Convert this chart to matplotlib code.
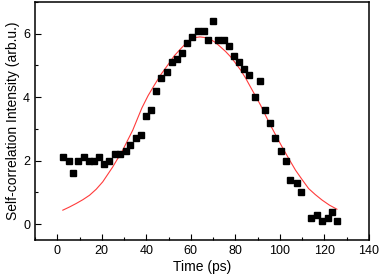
import numpy as np
import matplotlib.pyplot as plt
from matplotlib.ticker import MultipleLocator

plt.rcParams['font.family'] = ['Liberation Sans', 'DejaVu Sans']

# measured points
time_ps = [2.5, 5.1, 7.2, 9.5, 11.8, 14.2, 16.4, 18.8, 21.2, 23.4, 25.8, 28.3,
           31.0, 32.8, 35.2, 37.7, 39.8, 42.1, 44.3, 46.7, 49.1, 51.5, 53.7,
           56.1, 58.3, 60.7, 63.1, 65.7, 67.7, 70.0, 72.2, 74.9, 77.0, 79.2,
           81.6, 83.8, 86.3, 88.6, 90.9, 93.3, 95.7, 97.9, 100.3, 102.6, 104.7,
           107.6, 109.5, 114.1, 116.8, 119.1, 121.4, 123.5, 125.8]
intensity = [2.10, 2.0, 1.60, 2.0, 2.1, 2.0, 2.0, 2.1, 1.9, 2.0, 2.2, 2.2,
             2.3, 2.5, 2.7, 2.8, 3.4, 3.6, 4.2, 4.6, 4.8, 5.1, 5.2,
             5.4, 5.7, 5.9, 6.1, 6.1, 5.8, 6.4, 5.8, 5.8, 5.6, 5.3,
             5.1, 4.9, 4.7, 4.0, 4.5, 3.6, 3.2, 2.7, 2.3, 2.0, 1.4,
             1.3, 1.0, 0.19, 0.3, 0.1, 0.19, 0.39, 0.1]

# fit curve
fit_t = [2.5, 5.5, 8.5, 11.5, 14.5, 17.5, 20.4, 22.6, 24.9, 27.1, 29.4, 31.6,
         33.9, 36.0, 38.0, 40.8, 43.6, 46.6, 49.6, 52.5, 55.5, 57.8, 60.0, 62.0,
         64.1, 66.5, 68.9, 71.1, 73.4, 75.6, 77.9, 80.1, 82.4, 84.6, 86.8, 89.1,
         91.3, 95.0, 98.0, 101.0, 104.0, 107.0, 110.0, 112.9, 115.9, 118.9,
         122.2, 125.6]
fit_y = [0.44, 0.54, 0.65, 0.77, 0.91, 1.10, 1.33, 1.56, 1.80, 2.06, 2.33, 2.64,
         2.96, 3.32, 3.66, 4.05, 4.38, 4.72, 5.01, 5.30, 5.53, 5.70, 5.82, 5.88,
         5.90, 5.88, 5.82, 5.72, 5.58, 5.44, 5.27, 5.07, 4.85, 4.60, 4.32, 4.03,
         3.75, 3.22, 2.82, 2.43, 2.06, 1.70, 1.40, 1.12, 0.93, 0.76,
         0.60, 0.47]

fig = plt.figure(figsize=(3.79, 2.75), dpi=100)
ax = fig.add_axes([0.0923, 0.1273, 0.8813, 0.8654])

ax.plot(fit_t, fit_y, color='#ff3b3b', lw=0.8)
ax.plot(time_ps, intensity, 's', color='black', ms=4.3, ls='none')

ax.set_xlim(-10, 140)
ax.set_ylim(-0.5, 7)
ax.xaxis.set_major_locator(MultipleLocator(20))
ax.xaxis.set_minor_locator(MultipleLocator(10))
ax.yaxis.set_major_locator(MultipleLocator(2))
ax.yaxis.set_minor_locator(MultipleLocator(1))
ax.tick_params(which='both', direction='in', labelsize=9, width=0.8)
ax.tick_params(which='major', length=4)
ax.tick_params(which='minor', length=2.5)
for s in ax.spines.values():
    s.set_linewidth(1.1)

ax.set_xlabel('Time (ps)', fontsize=10, labelpad=2)
ax.set_ylabel('Self-correlation Intensity (arb.u.)', fontsize=10, labelpad=2)

fig.savefig('out.png', dpi=100)
